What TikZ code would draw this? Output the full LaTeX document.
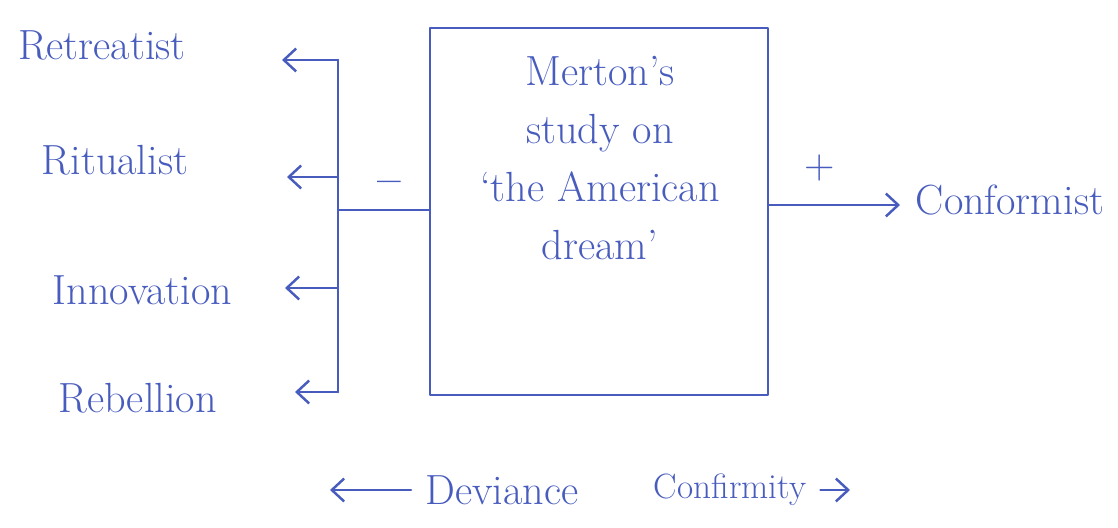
\documentclass[tikz,border=0pt]{standalone}
\usetikzlibrary{arrows.meta}

\definecolor{ink}{RGB}{72,92,190}

\tikzset{
  hand/.style={font=\fontsize{24}{33}\selectfont, text=ink, inner sep=2pt},
  small hand/.style={hand, font=\fontsize{20}{24}\selectfont},
  wire/.style={draw=ink, line width=1.4pt},
  barb/.style={-{Straight Barb[length=7pt,width=13pt]}},
}

\begin{document}
\begin{tikzpicture}[line cap=round, line join=round]
    \useasboundingbox (0,0) rectangle (22.36,10.56);

    % --- Riquadro centrale ---
    \node[wire, minimum width=6.76cm, minimum height=7.34cm] (merton) at (11.98,6.33) {};
    \node[hand, align=center] (mertontxt) at (12.0,7.4)
        {Merton's\\study on\\`the American\\dream'};

    % --- Tronco verticale a sinistra ---
    \coordinate (stemtop) at (6.76,9.36);
    \coordinate (stembot) at (6.76,2.72);
    \coordinate (join) at (6.76,6.36);
    \draw[wire] (stemtop) -- (stembot);
    \draw[wire] (merton.west |- join) -- (join);
    \node[hand] (minus) at (7.78,6.82) {\textbf{--}};

    % --- Le quattro uscite devianti ---
    % \i = indice, \y = quota freccia, \tx = punta, \lx/\ly = etichetta
    \foreach \i / \y / \tx / \lx / \ly / \lbl in {
        1 / 9.36 / 5.64 / 2.04 / 9.66 / Retreatist,
        2 / 7.02 / 5.74 / 2.30 / 7.36 / Ritualist,
        3 / 4.80 / 5.70 / 2.85 / 4.76 / Innovation,
        4 / 2.72 / 5.90 / 2.75 / 2.60 / Rebellion
    } {
        \coordinate (stem\i) at (6.76,\y);
        \coordinate (tip\i) at (\tx,\y);
        \node[hand] (out\i) at (\lx,\ly) {\lbl};
        \draw[wire, barb] (stem\i) -- (tip\i);
    }

    % --- Uscita conformista ---
    \node[hand] (conf) at (20.2,6.56) {Conformist};
    \coordinate (conftip) at (18.0,6.46);
    \draw[wire, barb] (merton.east |- conftip) -- (conftip);
    \node[hand] (plus) at (16.4,7.2) {+};

    % --- Legenda in basso ---
    \node[hand] (dev) at (10.04,0.76) {Deviance};
    \node[small hand] (cfm) at (14.6,0.76) {Confirmity};
    \coordinate (devtip) at (6.6,0.76);
    \coordinate (cfmtip) at (17.0,0.76);
    \draw[wire, barb] ([xshift=-6pt]dev.west) -- (devtip);
    \draw[wire, barb] ([xshift=6pt]cfm.east) -- (cfmtip);

\end{tikzpicture}
\end{document}
